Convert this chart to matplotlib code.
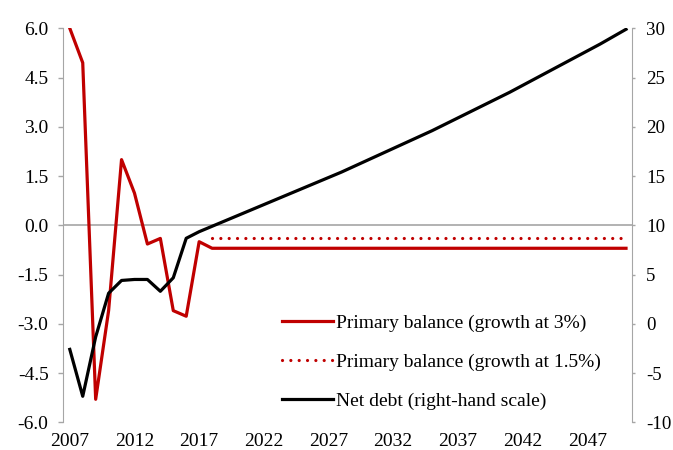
import matplotlib.pyplot as plt
import numpy as np

plt.rcParams['font.family'] = ['Liberation Serif', 'DejaVu Serif']

years = np.arange(2007, 2051)

# primary balance, growth at 3% (left scale)
pb_3 = [6.0, 4.95, -5.3, -2.6, 2.0, 0.98, -0.57, -0.4, -2.6, -2.77, -0.5] + [-0.7] * 33
# primary balance, growth at 1.5% (from 2018 on)
pb_15_years = np.arange(2018, 2051)
pb_15 = [-0.4] * 33
# net debt (right scale)
net_debt = [-2.6, -7.36, -1.33, 3.1, 4.4, 4.5, 4.5, 3.3, 4.67, 8.68, 9.35,
            9.9, 10.45, 11.0, 11.55, 12.1, 12.65, 13.2, 13.75, 14.3, 14.85,
            15.4, 16.0, 16.6, 17.2, 17.8, 18.4, 19.0, 19.6, 20.25, 20.9,
            21.55, 22.2, 22.85, 23.5, 24.2, 24.9, 25.6, 26.3, 27.0, 27.7,
            28.4, 29.15, 29.9]

left_ticks = np.arange(-6.0, 6.01, 1.5)
right_ticks = np.arange(-10, 31, 5)
x_ticks = np.arange(2007, 2050, 5)

red = '#C00000'
grey = '#A6A6A6'
fs = 14

fig = plt.figure(figsize=(6.73, 4.5), dpi=100)
ax = fig.add_axes([0.0941, 0.0616, 0.9398 - 0.0941, 0.9371 - 0.0616])
ax2 = ax.twinx()

ax.axhline(0, color=grey, lw=1.2, zorder=1)
l1, = ax.plot(years, pb_3, color=red, lw=2.3, label='Primary balance (growth at 3%)', zorder=3)
l2, = ax.plot(pb_15_years, pb_15, color=red, lw=2.3, linestyle=(0, (0.01, 2.6)),
              dash_capstyle='round', label='Primary balance (growth at 1.5%)', zorder=3)
l3, = ax2.plot(years, net_debt, color='black', lw=2.3, label='Net debt (right-hand scale)')

ax.set_xlim(2006.5, 2050.5)
ax.set_ylim(-6, 6)
ax2.set_ylim(-10, 30)
ax.set_yticks(left_ticks)
ax.set_yticklabels([f'{v:.1f}' for v in left_ticks])
ax2.set_yticks(right_ticks)
ax2.set_yticklabels([str(v) for v in right_ticks])
ax.set_xticks(x_ticks)
ax.set_xticklabels([str(v) for v in x_ticks])

for a in (ax, ax2):
    for s in ('top', 'bottom'):
        a.spines[s].set_visible(False)
ax.spines['right'].set_visible(False)
ax2.spines['left'].set_visible(False)
ax.spines['left'].set_color(grey)
ax2.spines['right'].set_color(grey)

ax.tick_params(axis='x', length=0, pad=7.5, labelsize=fs)
ax.tick_params(axis='y', length=3.6, width=1, color=grey, pad=7, labelsize=fs)
ax2.tick_params(axis='y', length=2.5, width=1, color=grey, pad=7.5, labelsize=13.6)

ax2.legend(handles=[l1, l2, l3], loc='upper left', bbox_to_anchor=(282 / 673, 1 - 314 / 450),
           bbox_transform=fig.transFigure, frameon=False, fontsize=fs, borderpad=0,
           borderaxespad=0, handlelength=2.6, handletextpad=0.2, labelspacing=1.1)

fig.savefig('out.png', dpi=100)
